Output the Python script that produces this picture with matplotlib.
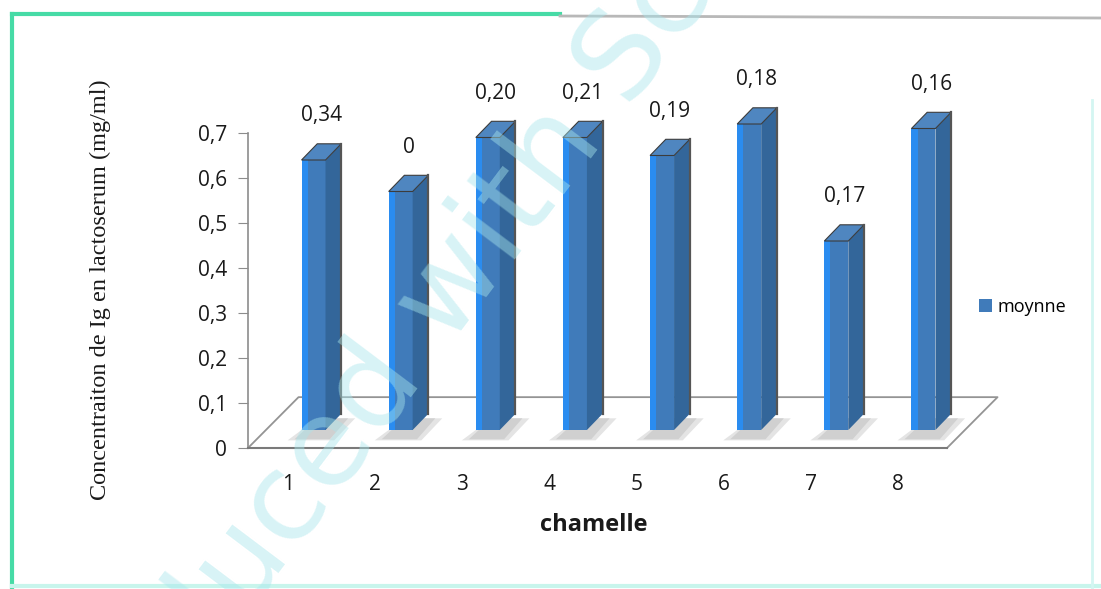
import matplotlib
matplotlib.use("Agg")
import matplotlib.pyplot as plt
from matplotlib.patches import Polygon
from matplotlib.lines import Line2D

# ---- data -------------------------------------------------------------
chamelles = ["1", "2", "3", "4", "5", "6", "7", "8"]
moyenne = [0.60, 0.53, 0.65, 0.65, 0.61, 0.68, 0.42, 0.67]
etiquettes = ["0,34", "0", "0,20", "0,21", "0,19", "0,18", "0,17", "0,16"]
y_ticks = [0.0, 0.1, 0.2, 0.3, 0.4, 0.5, 0.6, 0.7]
y_tick_labels = ["0", "0,1", "0,2", "0,3", "0,4", "0,5", "0,6", "0,7"]

# ---- pseudo-3D geometry (data units) ----------------------------------
FLOOR_DX, FLOOR_DY = 0.58, 0.113      # depth vector of the floor
BAR_DX, BAR_DY = 0.18, 0.036          # depth vector of one column
BAR_BASE = 0.040                       # columns stand in the middle of the floor
FACE_SHIFT, FACE_W = 0.293, 0.275      # front face centre offset and width
X0, X1 = 0.541, 8.563

FRONT = "#407bba"
STRIP = "#2a8cf0"
SIDE = "#33669a"
TOP = "#4f86c0"
EDGE = "#555555"

W, H = 1101, 589
fig = plt.figure(figsize=(W / 100, H / 100), dpi=100)
fig.patch.set_facecolor("white")
ax = fig.add_axes([248 / W, 141 / H, 699 / W, 315 / H])
ax.set_xlim(X0, X1)
ax.set_ylim(0, 0.7)
ax.set_facecolor("none")

# floor
floor = Polygon([(X0, 0), (X1, 0), (X1 + FLOOR_DX, FLOOR_DY), (X0 + FLOOR_DX, FLOOR_DY)],
                closed=True, facecolor="white", edgecolor="none", zorder=0, clip_on=False)
ax.add_patch(floor)
ax.plot([X0, X0 + FLOOR_DX, X1 + FLOOR_DX, X1], [0, FLOOR_DY, FLOOR_DY, 0],
        color="#949494", lw=1.3, zorder=1, clip_on=False)

xs = list(range(1, len(chamelles) + 1))
centres = [x + FACE_SHIFT for x in xs]

# soft shadows on the floor
for c in centres:
    xl, xr = c - FACE_W / 2, c + FACE_W / 2
    for grow, col in ((0.10, "#e4e4e4"), (0.05, "#d0d0d0")):
        shadow = Polygon([(xl - 1.6 * grow, BAR_BASE - 0.018 - grow * 0.05),
                          (xr + grow, BAR_BASE - 0.018 - grow * 0.05),
                          (xr + BAR_DX + grow * 1.6, BAR_BASE + BAR_DY - 0.01),
                          (xl + BAR_DX, BAR_BASE + BAR_DY - 0.01)],
                         closed=True, facecolor=col, edgecolor="none", zorder=2, clip_on=False)
        ax.add_patch(shadow)

# front faces
bars = ax.bar(centres, moyenne, width=FACE_W, bottom=BAR_BASE, color=FRONT,
              label="moynne", zorder=4, clip_on=False)
ax.bar([c - FACE_W / 2 + 0.035 for c in centres], moyenne, width=0.07, bottom=BAR_BASE,
       color=STRIP, zorder=5, clip_on=False)

for c, v, lab in zip(centres, moyenne, etiquettes):
    xl, xr = c - FACE_W / 2, c + FACE_W / 2
    top = BAR_BASE + v
    side = Polygon([(xr, BAR_BASE), (xr + BAR_DX, BAR_BASE + BAR_DY),
                    (xr + BAR_DX, top + BAR_DY), (xr, top)],
                   closed=True, facecolor=SIDE, edgecolor="none", zorder=4, clip_on=False)
    cap = Polygon([(xl, top), (xr, top), (xr + BAR_DX, top + BAR_DY), (xl + BAR_DX, top + BAR_DY)],
                  closed=True, facecolor=TOP, edgecolor="#3c3c3c", lw=0.8, zorder=5, clip_on=False)
    ax.add_patch(side)
    ax.add_patch(cap)
    ax.plot([xr + BAR_DX, xr + BAR_DX], [BAR_BASE + BAR_DY, top + BAR_DY],
            color=EDGE, lw=1.6, zorder=5, clip_on=False)
    ax.text(xl + (FACE_W + BAR_DX) / 2, top + BAR_DY + 0.062, lab,
            ha="center", va="center", fontsize=15, family="Open Sans",
            color="#1a1a1a", zorder=6, clip_on=False)

# axes styling
for s in ("top", "right"):
    ax.spines[s].set_visible(False)
ax.spines["left"].set_color("#8c8c8c")
ax.spines["left"].set_linewidth(1.2)
ax.spines["bottom"].set_color("#7a7a7a")
ax.spines["bottom"].set_linewidth(1.5)
ax.spines["bottom"].set_zorder(3)

ax.set_yticks(y_ticks)
ax.set_yticklabels(y_tick_labels, family="Open Sans", fontsize=15, color="#1a1a1a")
ax.tick_params(axis="y", direction="out", length=7, color="#8c8c8c", pad=8)
ax.set_xticks(xs)
ax.set_xticklabels(chamelles, family="Open Sans", fontsize=15, color="#1a1a1a")
ax.tick_params(axis="x", length=0, pad=19)

ax.set_xlabel("chamelle", family="Open Sans", fontsize=17, fontweight="bold",
              color="#1a1a1a", va="center")
ax.xaxis.set_label_coords(0.495, -0.244)
ax.set_ylabel("Concentraiton de Ig en lactoserum (mg/ml)", family="Liberation Serif",
              fontsize=17.5, color="#1a1a1a", va="center")
ax.yaxis.set_label_coords(-0.2117, 0.5016)

ax.legend(handles=[bars], labels=["moynne"], loc="center left",
          bbox_to_anchor=(970 / W, 1 - 307 / H), bbox_transform=fig.transFigure,
          frameon=False, handlelength=0.7, handleheight=0.7, handletextpad=0.3,
          borderpad=0, prop={"family": "Open Sans", "size": 13})

# frame of the chart area
fig.add_artist(Line2D([12 / W, 560 / W], [1 - 14 / H, 1 - 14 / H], color="#46dba6", lw=3))
fig.add_artist(Line2D([560 / W, 1], [1 - 16 / H, 1 - 18 / H], color="#b8b8b8", lw=2))
fig.add_artist(Line2D([12 / W, 12 / W], [0, 1 - 14 / H], color="#46dba6", lw=3))
fig.add_artist(Line2D([12 / W, 1], [3 / H, 3 / H], color="#c8f5ec", lw=3))
fig.add_artist(Line2D([1092 / W, 1092 / W], [0, 1 - 100 / H], color="#d4f6f2", lw=2))

# scanner watermark
fig.text(0.075, -0.416, "Produced with ScanTo PDF", rotation=53, rotation_mode="anchor",
         ha="left", va="baseline", fontsize=88, family="DejaVu Sans",
         color="#a8e6ec", alpha=0.45, zorder=10)

fig.savefig("out.png", dpi=100, facecolor="white")
